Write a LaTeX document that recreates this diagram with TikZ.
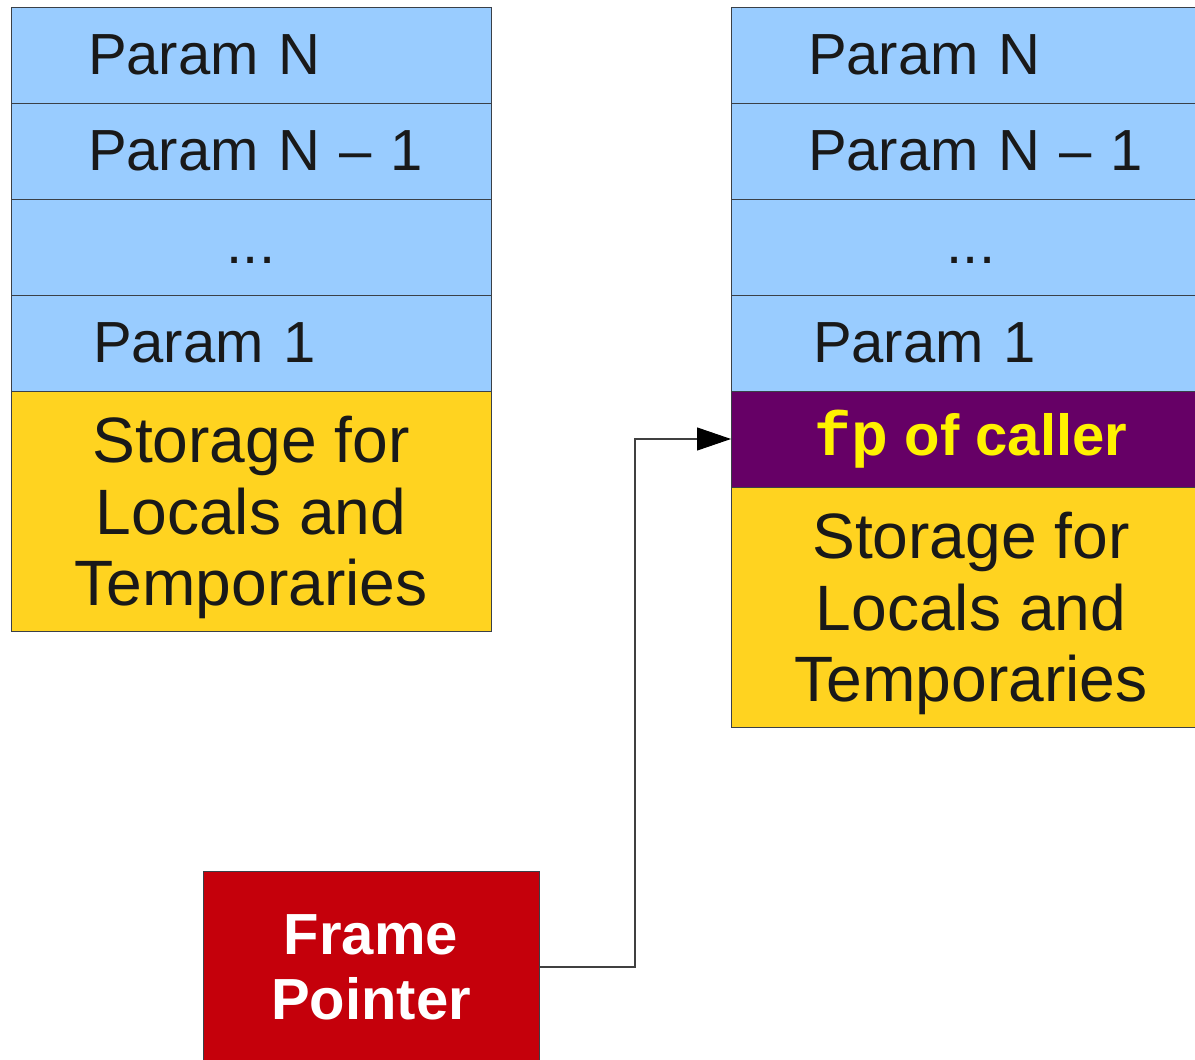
\documentclass[tikz,border=0pt]{standalone}
\usepackage{fontspec}
\setmainfont{Liberation Sans}
\newfontfamily\codefont{Liberation Mono}
\usetikzlibrary{arrows.meta,positioning}

\definecolor{paramblue}{HTML}{99CCFF}
\definecolor{storegold}{HTML}{FFD320}
\definecolor{callerpurple}{HTML}{660066}
\definecolor{fpred}{HTML}{C5000B}
\definecolor{edgegray}{HTML}{3A4048}

\begin{document}
\begin{tikzpicture}
    % Define styles
    \tikzstyle{param} = [rectangle, draw=edgegray, fill=paramblue, outer sep=0pt, minimum width=9.6cm, minimum height=1.92cm, inner xsep=1.54cm, text width=6.52cm, align=left, text=black!90, font=\fontsize{33pt}{38pt}\selectfont]
    \tikzstyle{gap} = [param, align=center, text height=0.68cm, text depth=0pt]
    \tikzstyle{storage} = [rectangle, draw=edgegray, fill=storegold, outer sep=0pt, minimum width=9.6cm, minimum height=4.8cm, align=center, text depth=0pt, text=black!90, font=\fontsize{36.5pt}{40.6pt}\selectfont]
    \tikzstyle{savedfp} = [rectangle, draw=edgegray, fill=callerpurple, outer sep=0pt, minimum width=9.6cm, minimum height=1.92cm, text=yellow, font=\fontsize{33pt}{38pt}\selectfont\bfseries]
    \tikzstyle{pointer} = [rectangle, draw=edgegray, fill=fpred, outer sep=0pt, minimum width=6.72cm, minimum height=3.84cm, align=center, text=white, font=\fontsize{33pt}{36.8pt}\selectfont\bfseries]
    \tikzstyle{arrow} = [draw=black!75, line width=0.6pt, -{Triangle[length=0.68cm, width=0.46cm, black]}]

    \clip (0,0) rectangle (23.9,-21.2);

    % Left frame
    \node [param, anchor=north west] (lparamn) at (0.22,-0.14) {Param N};
    \node [param, below=0pt of lparamn] (lparamm) {\mbox{Param N -- 1}};
    \node [gap, below=0pt of lparamm] (ldots) {...};
    \node [param, below=0pt of ldots] (lparamone) {\hspace{0.1cm}Param 1};
    \node [storage, below=0pt of lparamone] (lstore) {Storage for\\Locals and\\Temporaries};

    % Right frame
    \node [param, anchor=north west] (rparamn) at (14.62,-0.14) {Param N};
    \node [param, below=0pt of rparamn] (rparamm) {\mbox{Param N -- 1}};
    \node [gap, below=0pt of rparamm] (rdots) {...};
    \node [param, below=0pt of rdots] (rparamone) {\hspace{0.1cm}Param 1};
    \node [savedfp, below=0pt of rparamone] (callerfp) {{\codefont\fontsize{35pt}{38pt}\selectfont fp} of caller};
    \node [storage, below=0pt of callerfp] (rstore) {Storage for\\Locals and\\Temporaries};

    % Frame pointer
    \node [pointer] (framepointer) at (7.42,-19.34) {Frame\\Pointer};

    % Arrows
    \draw [arrow] (framepointer.east) -- ++(1.92,0) |- (callerfp.west);
\end{tikzpicture}
\end{document}
